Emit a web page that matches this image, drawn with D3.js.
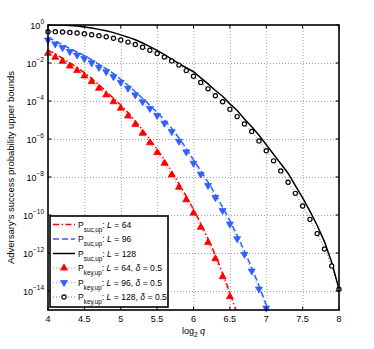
<!DOCTYPE html>
<html>
<head>
<meta charset="utf-8">
<script src="https://cdn.jsdelivr.net/npm/d3@7.9.0/dist/d3.min.js"></script>
<style>
  body { margin: 0; background: #fff; }
  svg { font-family: "Liberation Sans", Arial, Helvetica, sans-serif; }
</style>
</head>
<body>
<svg id="chart" width="374" height="349"></svg>
<script>
// x positions: log2 q
const logQ = [4.0, 4.1, 4.2, 4.3, 4.4, 4.5, 4.6, 4.7, 4.8, 4.9,
              5.0, 5.1, 5.2, 5.3, 5.4, 5.5, 5.6, 5.7, 5.8, 5.9,
              6.0, 6.1, 6.2, 6.3, 6.4, 6.5, 6.6, 6.7, 6.8, 6.9,
              7.0, 7.1, 7.2, 7.3, 7.4, 7.5, 7.6, 7.7, 7.8, 7.9, 8.0];

// series values, as log10 of the probability
const sucL64 = [-1.32, -1.53, -1.75, -1.99, -2.24, -2.51, -2.81, -3.15, -3.50, -3.86,
                -4.21, -4.61, -5.05, -5.52, -6.02, -6.54, -7.10, -7.70, -8.35, -9.01,
                -9.70, -10.45, -11.25, -12.10, -13.05, -14.10, -15.20];
const sucL96 = [-0.65, -0.85, -1.04, -1.24, -1.42, -1.61, -1.83, -2.07, -2.30, -2.56,
                -2.86, -3.17, -3.51, -3.87, -4.22, -4.59, -5.00, -5.44, -5.95, -6.50,
                -7.10, -7.67, -8.27, -8.90, -9.58, -10.30, -11.07, -11.89, -12.77, -13.72,
                -14.72, -15.80];
const sucL128 = [0, 0, 0, -0.02, -0.05, -0.10, -0.16, -0.23, -0.30, -0.40,
                 -0.52, -0.64, -0.78, -0.95, -1.14, -1.34, -1.56, -1.80, -2.03, -2.25,
                 -2.46, -2.78, -3.10, -3.45, -3.75, -4.15, -4.50, -4.95, -5.35, -5.80,
                 -6.30, -6.80, -7.30, -7.80, -8.45, -9.10, -9.80, -10.55, -11.40, -12.50,
                 -13.90];
const keyL64 = [-1.49, -1.70, -1.91, -2.16, -2.40, -2.68, -2.98, -3.33, -3.68, -4.04,
                -4.38, -4.79, -5.23, -5.70, -6.20, -6.72, -7.28, -7.89, -8.54, -9.20,
                -9.90, -10.65, -11.45, -12.30, -13.25, -14.30];
const keyL96 = [-0.79, -1.00, -1.19, -1.40, -1.58, -1.77, -1.99, -2.23, -2.46, -2.72,
                -3.02, -3.33, -3.68, -4.04, -4.39, -4.76, -5.17, -5.61, -6.12, -6.68,
                -7.28, -7.85, -8.45, -9.08, -9.76, -10.48, -11.25, -12.07, -12.95, -13.90,
                -14.90];
const keyL128 = [-0.35, -0.35, -0.37, -0.39, -0.42, -0.46, -0.51, -0.56, -0.62, -0.70,
                 -0.79, -0.90, -1.03, -1.17, -1.33, -1.50, -1.69, -1.89, -2.11, -2.40,
                 -2.70, -3.02, -3.36, -3.72, -4.04, -4.44, -4.82, -5.21, -5.60, -6.10,
                 -6.62, -7.15, -7.68, -8.28, -8.86, -9.53, -10.23, -10.98, -11.79, -12.68,
                 -13.91];

const xTicks = [4, 4.5, 5, 5.5, 6, 6.5, 7, 7.5, 8];
const yTickExp = [0, -2, -4, -6, -8, -10, -12, -14];

const red = "#ff0000", blue = "#2f5fff", black = "#000";

const svg = d3.select("#chart");
const pl = 48, pr = 339, pt = 25, pb = 310;

const x = d3.scaleLinear().domain([4, 8]).range([pl, pr]);
const y = d3.scaleLog().domain([1e-15, 1]).range([pb, pt]);

const toPts = arr => arr.map((v, i) => [logQ[i], Math.pow(10, v)]);

svg.append("defs").append("clipPath").attr("id", "plotClip")
  .append("rect").attr("x", pl).attr("y", pt)
  .attr("width", pr - pl).attr("height", pb - pt);

// grid
const grid = svg.append("g").attr("stroke", "#a0a0a0").attr("stroke-width", 1)
  .attr("stroke-dasharray", "1,2");
grid.selectAll(".gx").data(xTicks.slice(1, -1)).enter().append("line")
  .attr("x1", d => x(d) + 0.5).attr("x2", d => x(d) + 0.5)
  .attr("y1", pt).attr("y2", pb);
grid.selectAll(".gy").data(yTickExp.slice(1)).enter().append("line")
  .attr("x1", pl).attr("x2", pr)
  .attr("y1", d => y(Math.pow(10, d)) + 0.5).attr("y2", d => y(Math.pow(10, d)) + 0.5);

const line = d3.line().x(d => x(d[0])).y(d => y(d[1]));
const plot = svg.append("g").attr("clip-path", "url(#plotClip)");

// P_key,up connecting dotted lines
const keySeries = [
  { data: keyL64, color: red },
  { data: keyL96, color: blue },
  { data: keyL128, color: black }
];
keySeries.forEach(s => {
  plot.append("path").datum(toPts(s.data))
    .attr("d", line).attr("fill", "none")
    .attr("stroke", s.color).attr("stroke-opacity", 0.55)
    .attr("stroke-width", 1).attr("stroke-dasharray", "1,2");
});

// P_suc,up lines
plot.append("path").datum(toPts(sucL64)).attr("d", line).attr("fill", "none")
  .attr("stroke", red).attr("stroke-width", 1.5).attr("stroke-dasharray", "6,2.5,1.5,2.5");
plot.append("path").datum(toPts(sucL96)).attr("d", line).attr("fill", "none")
  .attr("stroke", blue).attr("stroke-width", 1.5).attr("stroke-dasharray", "6,3");
plot.append("path").datum(toPts(sucL128)).attr("d", line).attr("fill", "none")
  .attr("stroke", black).attr("stroke-width", 1.5);

// markers
const triUp = d3.symbol().type(d3.symbolTriangle).size(21);
const markers = svg.append("g");
markers.selectAll(".m64").data(toPts(keyL64)).enter().append("path")
  .attr("d", triUp)
  .attr("transform", d => `translate(${x(d[0])},${y(d[1])})`)
  .attr("fill", red).attr("stroke", red).attr("stroke-width", 0.8);
markers.selectAll(".m96").data(toPts(keyL96)).enter().append("path")
  .attr("d", triUp)
  .attr("transform", d => `translate(${x(d[0])},${y(d[1])}) rotate(180)`)
  .attr("fill", blue).attr("stroke", blue).attr("stroke-width", 0.8);
markers.selectAll(".m128").data(toPts(keyL128)).enter().append("circle")
  .attr("cx", d => x(d[0])).attr("cy", d => y(d[1])).attr("r", 2.1)
  .attr("fill", "#fff").attr("stroke", black).attr("stroke-width", 1.2);

// axes box and ticks
const axisG = svg.append("g").attr("stroke", "#000");
axisG.append("rect").attr("x", pl).attr("y", pt)
  .attr("width", pr - pl).attr("height", pb - pt)
  .attr("fill", "none").attr("stroke-width", 1.6);
xTicks.forEach(t => {
  axisG.append("line").attr("x1", x(t)).attr("x2", x(t)).attr("y1", pb).attr("y2", pb - 3.5);
  axisG.append("line").attr("x1", x(t)).attr("x2", x(t)).attr("y1", pt).attr("y2", pt + 3.5);
});
yTickExp.forEach(e => {
  const yy = y(Math.pow(10, e));
  axisG.append("line").attr("x1", pl).attr("x2", pl + 3.5).attr("y1", yy).attr("y2", yy);
  axisG.append("line").attr("x1", pr).attr("x2", pr - 3.5).attr("y1", yy).attr("y2", yy);
});

// tick labels
svg.append("g").selectAll("text").data(xTicks).enter().append("text")
  .attr("x", d => x(d)).attr("y", pb + 12)
  .attr("text-anchor", "middle").attr("font-size", 9)
  .text(d => d);

const yl = svg.append("g").selectAll("text").data(yTickExp).enter().append("text")
  .attr("x", pl - 4).attr("y", d => y(Math.pow(10, d)) + 3.5)
  .attr("text-anchor", "end").attr("font-size", 9);
yl.append("tspan").text("10");
yl.append("tspan").attr("dy", -5).attr("font-size", 6.5)
  .text(d => d === 0 ? "0" : "\u2212" + (-d));

// axis labels
const xl = svg.append("text").attr("x", x(6)).attr("y", pb + 24)
  .attr("text-anchor", "middle").attr("font-size", 9);
xl.append("tspan").text("log");
xl.append("tspan").attr("dy", 3).attr("font-size", 6.5).text("2");
xl.append("tspan").attr("dy", -3).text(" ");
xl.append("tspan").attr("font-style", "italic").text("q");

svg.append("text")
  .attr("transform", `translate(14,${(pt + pb) / 2}) rotate(-90)`)
  .attr("text-anchor", "middle").attr("font-size", 9.5)
  .text("Adversary\u2019s success probability upper bounds");

// legend
const legendItems = [
  { sub: "suc,up", L: "64", delta: false, color: red, dash: "6,2.5,1.5,2.5", w: 1.5, marker: null },
  { sub: "suc,up", L: "96", delta: false, color: blue, dash: "6,3", w: 1.5, marker: null },
  { sub: "suc,up", L: "128", delta: false, color: black, dash: null, w: 1.5, marker: null },
  { sub: "key,up", L: "64", delta: true, color: red, dash: "1,2", w: 1, marker: "up" },
  { sub: "key,up", L: "96", delta: true, color: blue, dash: "1,2", w: 1, marker: "down" },
  { sub: "key,up", L: "128", delta: true, color: black, dash: "1,2", w: 1, marker: "circle" }
];
const lg = svg.append("g");
lg.append("rect").attr("x", 50).attr("y", 216).attr("width", 118).attr("height", 91)
  .attr("fill", "#fff").attr("stroke", "#000").attr("stroke-width", 1.6);
const rows = lg.selectAll(".row").data(legendItems).enter().append("g")
  .attr("transform", (d, i) => `translate(0,${224.5 + i * 14.5})`);
rows.append("line").attr("x1", 53).attr("x2", 75).attr("y1", 0).attr("y2", 0)
  .attr("stroke", d => d.color).attr("stroke-width", d => d.w)
  .attr("stroke-opacity", d => d.marker ? 0.55 : 1)
  .attr("stroke-dasharray", d => d.dash);
rows.filter(d => d.marker === "up").append("path").attr("d", triUp)
  .attr("transform", "translate(64,0)").attr("fill", red).attr("stroke", red).attr("stroke-width", 0.8);
rows.filter(d => d.marker === "down").append("path").attr("d", triUp)
  .attr("transform", "translate(64,0) rotate(180)").attr("fill", blue).attr("stroke", blue).attr("stroke-width", 0.8);
rows.filter(d => d.marker === "circle").append("circle").attr("cx", 64).attr("cy", 0).attr("r", 2.1)
  .attr("fill", "#fff").attr("stroke", black).attr("stroke-width", 1.2);
const lt = rows.append("text").attr("x", 78).attr("y", 3).attr("font-size", 8.6);
lt.append("tspan").text("P");
lt.append("tspan").attr("dy", 4).attr("font-size", 6.3).text(d => d.sub);
lt.append("tspan").attr("dy", -4).text(": ");
lt.append("tspan").attr("font-style", "italic").text("L");
lt.append("tspan").text(d => " = " + d.L + (d.delta ? ", " : ""));
lt.filter(d => d.delta).append("tspan").attr("font-style", "italic").text("\u03b4");
lt.filter(d => d.delta).append("tspan").text(" = 0.5");
</script>
</body>
</html>
